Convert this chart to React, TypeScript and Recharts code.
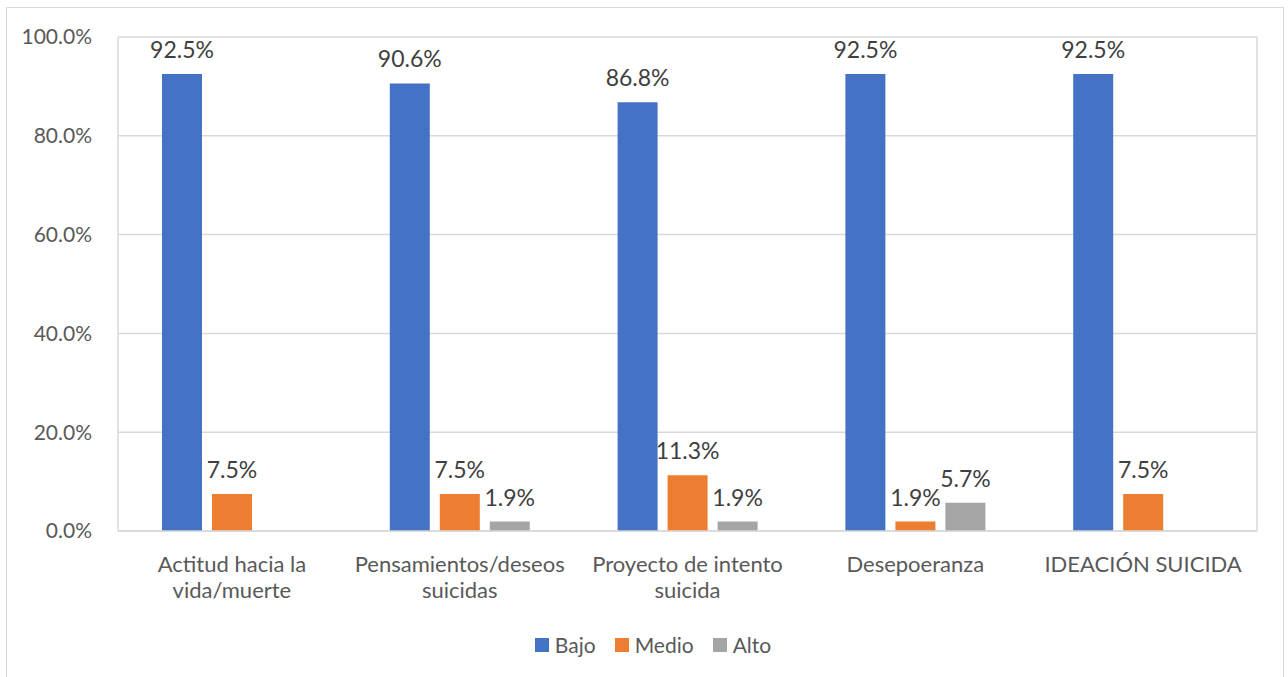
import React from 'react';
import { BarChart, Bar, XAxis, YAxis, CartesianGrid, Legend, LabelList } from 'recharts';

const categories = [
  'Actitud hacia la vida/muerte',
  'Pensamientos/deseos suicidas',
  'Proyecto de intento suicida',
  'Desepoeranza',
  'IDEACIÓN SUICIDA',
];
const categoryLines = [
  ['Actitud hacia la', 'vida/muerte'],
  ['Pensamientos/deseos', 'suicidas'],
  ['Proyecto de intento', 'suicida'],
  ['Desepoeranza'],
  ['IDEACIÓN SUICIDA'],
];
const bajo = [92.5, 90.6, 86.8, 92.5, 92.5];
const medio = [7.5, 7.5, 11.3, 1.9, 7.5];
const alto = [0, 1.9, 1.9, 5.7, 0];
const yTicks = [0, 20, 40, 60, 80, 100];
const seriesNames = ['Bajo', 'Medio', 'Alto'];
const seriesKeys = ['bajo', 'medio', 'alto'];
const seriesColors = ['#4472C4', '#ED7D31', '#A5A5A5'];

const data = categories.map((c, i) => ({
  name: c,
  idx: i,
  bajo: bajo[i],
  medio: medio[i],
  alto: alto[i],
}));

const FONT = 'Lato, "Liberation Sans", sans-serif';

const CategoryTick = (props: any) => {
  const { x, y, payload } = props;
  const lines = categoryLines[payload.index] || [String(payload.value)];
  return (
    <text x={x} y={y} textAnchor="middle" fill="#595959" fontSize={22} fontFamily={FONT}>
      {lines.map((l, i) => (
        <tspan key={i} x={x} dy={i === 0 ? 33 : 26}>
          {l}
        </tspan>
      ))}
    </text>
  );
};

const ValueLabel = (props: any) => {
  const { x, y, width, value } = props;
  if (!value) return null;
  return (
    <text
      x={Number(x) + Number(width) / 2}
      y={Number(y) - 16}
      textAnchor="middle"
      fill="#404040"
      fontSize={23}
      fontFamily={FONT}
    >
      {Number(value).toFixed(1) + '%'}
    </text>
  );
};

const LegendContent = () => (
  <div style={{ display: 'flex', justifyContent: 'center', alignItems: 'center', fontFamily: FONT, fontSize: 21, color: '#595959' }}>
    {seriesNames.map((n, i) => (
      <div key={n} style={{ display: 'flex', alignItems: 'center', marginRight: i < seriesNames.length - 1 ? 19 : 0 }}>
        <span style={{ display: 'inline-block', width: 14, height: 14, background: seriesColors[i], marginRight: 6 }} />
        <span>{n}</span>
      </div>
    ))}
  </div>
);

export default function App() {
  return (
    <div style={{ position: 'absolute', left: 0, top: 0, width: 1288, height: 677, background: '#fff', overflow: 'hidden' }}>
      <div
        style={{
          position: 'absolute',
          left: 6,
          top: 7,
          width: 1278,
          height: 700,
          border: '1.5px solid #D9D9D9',
          boxSizing: 'border-box',
        }}
      />
      <div style={{ position: 'absolute', left: 0, top: 0 }}>
        <BarChart
          width={1288}
          height={677}
          data={data}
          margin={{ top: 37, right: 31, left: 38, bottom: 66 }}
          barSize={40}
          barGap={10}
        >
          <CartesianGrid
            stroke="#D9D9D9"
            strokeWidth={1.5}
            vertical={true}
            verticalCoordinatesGenerator={({ offset }: any) => [offset.left, offset.left + offset.width]}
          />
          <XAxis
            dataKey="name"
            height={80}
            tickLine={false}
            axisLine={{ stroke: '#D9D9D9', strokeWidth: 1.5 }}
            tick={<CategoryTick />}
            interval={0}
          />
          <YAxis
            width={80}
            domain={[0, 100]}
            ticks={yTicks}
            tickLine={false}
            axisLine={false}
            tickFormatter={(v: number) => v.toFixed(1) + '%'}
            tick={{ fill: '#595959', fontSize: 21, fontFamily: FONT }}
            tickMargin={20}
          />
          <Legend
            layout="horizontal"
            verticalAlign="middle"
            align="center"
            content={<LegendContent />}
            wrapperStyle={{ position: 'absolute', top: 632, left: 24, width: 1258 }}
          />
          {seriesKeys.map((k, i) => (
            <Bar key={k} dataKey={k} name={seriesNames[i]} fill={seriesColors[i]} isAnimationActive={false}>
              <LabelList dataKey={k} content={<ValueLabel />} />
            </Bar>
          ))}
        </BarChart>
      </div>
    </div>
  );
}
